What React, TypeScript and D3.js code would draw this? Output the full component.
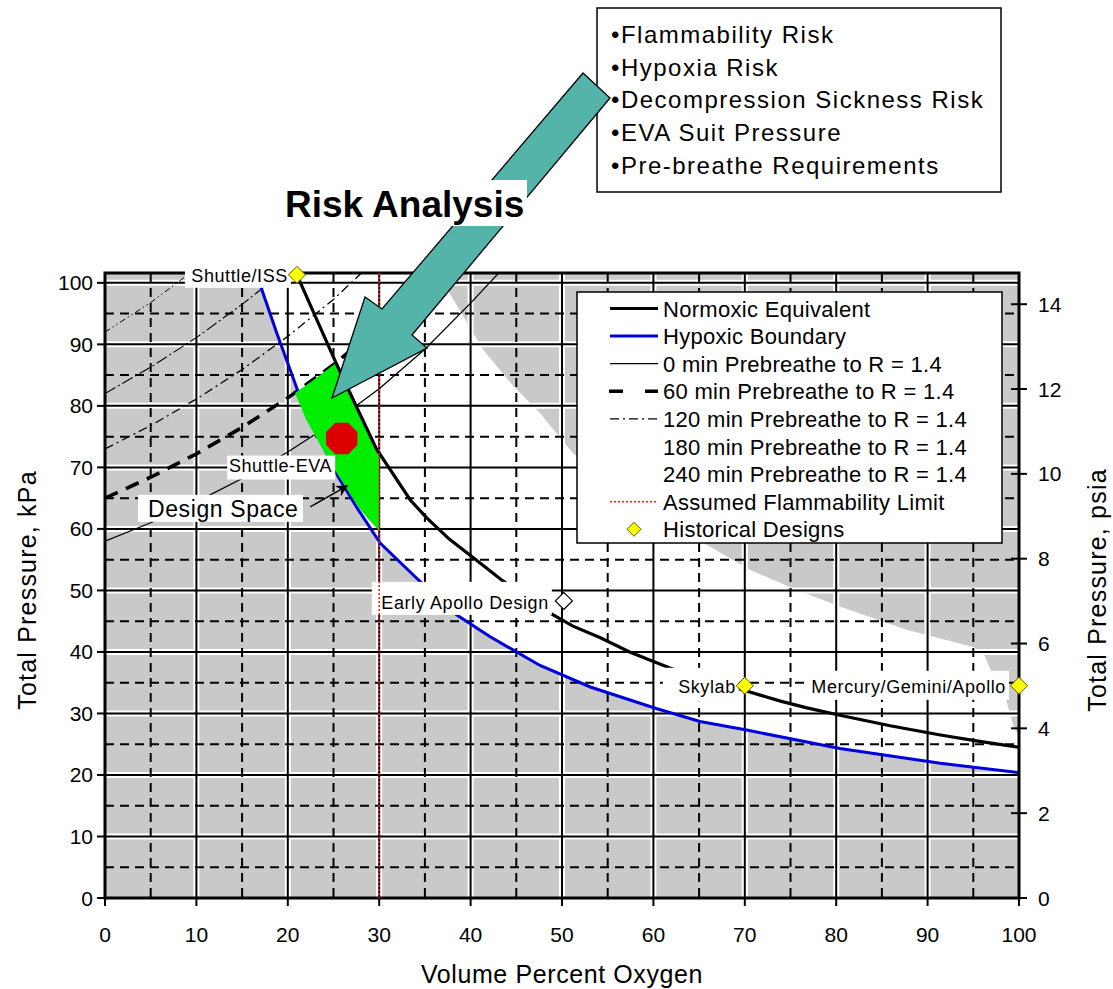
import React from 'react';
import * as d3 from 'd3';

type Pt = [number, number];

const W = 1113;
const H = 989;
const PLOT = { left: 105, right: 1019, top: 273, bottom: 898 };
const X_MAX = 100;
const Y_MAX = 101.6;
const KPA_PER_PSI = 6.894757;
const FONT = '"Liberation Sans", Arial, Helvetica, sans-serif';

// Axis ticks
const xTicks = [0, 10, 20, 30, 40, 50, 60, 70, 80, 90, 100];
const yTicks = [0, 10, 20, 30, 40, 50, 60, 70, 80, 90, 100];
const psiTicks = [0, 2, 4, 6, 8, 10, 12, 14];
const xMinor = [5, 15, 25, 35, 45, 55, 65, 75, 85, 95];
const yMinor = [5, 15, 25, 35, 45, 55, 65, 75, 85, 95];

// [volume % O2, total pressure kPa]
const normoxic: Pt[] = [
  [21.0, 101.3], [23.0, 94.6], [25.3, 86.9], [27.5, 79.9], [29.7, 73.0],
  [33.4, 64.7], [35.2, 61.8], [37.7, 58.3], [40.3, 55.3], [43.4, 51.7], [46.0, 49.0],
  [48.7, 46.3], [51.2, 44.2], [54.2, 42.3], [57.4, 40.0], [61.8, 37.4], [65.8, 35.6],
  [69.8, 33.8], [73.9, 32.0], [76.8, 30.9], [80.4, 29.7], [85.9, 28.0], [91.4, 26.5],
  [95.5, 25.5], [100, 24.5],
];

const hypoxic: Pt[] = [
  [16.9, 100.0], [18.8, 91.8], [21.2, 82.0], [22.4, 77.7], [23.9, 73.4], [25.5, 68.5],
  [27.5, 63.6], [30.1, 57.7], [34.3, 51.7], [38.5, 46.0], [42.1, 42.5], [47.6, 37.8],
  [53.1, 34.3], [60.3, 30.8], [65.1, 28.7], [70.2, 27.3], [80.4, 24.3], [91.4, 21.9],
  [100, 20.4],
];

const prebreathe0: Pt[] = [
  [0, 58.0], [5, 61.0], [10, 64.4], [15, 68.2], [20, 72.5], [25, 77.3], [30, 82.8],
  [35, 89.2], [40, 96.7], [43.2, 101.8],
];
const prebreathe60: Pt[] = [
  [0, 65.0], [5, 68.4], [10, 72.2], [15, 76.5], [20, 81.3], [25, 86.7], [30, 92.9],
  [35, 100.0], [36.2, 101.8],
];
const prebreathe120: Pt[] = [
  [0, 73.0], [5, 76.8], [10, 81.1], [15, 85.9], [20, 91.3], [25, 97.3], [28.2, 101.8],
];
const prebreathe180: Pt[] = [
  [0, 82.0], [5, 86.3], [10, 91.1], [15, 96.5], [19.5, 101.8],
];
const prebreathe240: Pt[] = [
  [0, 92.0], [5, 96.8], [9.5, 101.8],
];

// Upper-right limit of the acceptable atmosphere band
const upperLimit: Pt[] = [
  [36.6, 101.6], [37.7, 98.3], [41.4, 89.1], [44.5, 83.5], [47.6, 78.8], [51.2, 72.3],
  [56.0, 66.8], [61.0, 61.5], [66.2, 57.1], [70.6, 53.3], [75.5, 50.2], [80.4, 47.4],
  [87.7, 43.6], [95.0, 40.8], [96.2, 39.6], [97.2, 36.0], [98.6, 32.2], [99.4, 27.8],
  [100, 26.5],
];

const designSpace: Pt[] = [
  [20.8, 82.1], [23.0, 84.4], [25.2, 86.9], [26.4, 83.2], [27.5, 79.9], [28.6, 76.4],
  [29.7, 73.0], [30.0, 72.3], [30.0, 59.7], [28.8, 61.6], [27.7, 63.6], [25.6, 68.5],
  [23.6, 73.5], [22.0, 77.8],
];

const flammabilityLimit = 30;
const designPoint: Pt = [25.9, 74.7];
const designArrowTip: Pt = [26.5, 67.0];

const historicalNames = ['Shuttle/ISS', 'Skylab', 'Mercury/Gemini/Apollo'];
const historicalO2 = [21, 70, 100];
const historicalP = [101.3, 34.5, 34.5];
const earlyApollo: Pt = [50.2, 48.3];

const bulletItems = [
  'Flammability Risk',
  'Hypoxia Risk',
  'Decompression Sickness Risk',
  'EVA Suit Pressure',
  'Pre-breathe Requirements',
];

const legendLabels = [
  'Normoxic Equivalent',
  'Hypoxic Boundary',
  '0 min Prebreathe to R = 1.4',
  '60 min Prebreathe to R = 1.4',
  '120 min Prebreathe to R = 1.4',
  '180 min Prebreathe to R = 1.4',
  '240 min Prebreathe to R = 1.4',
  'Assumed Flammability Limit',
  'Historical Designs',
];

const prebreatheSeries = [
  { pts: prebreathe0, width: 1.3, dash: undefined as string | undefined },
  { pts: prebreathe60, width: 3.6, dash: '14,9' },
  { pts: prebreathe120, width: 1.3, dash: '9,4,2,4' },
  { pts: prebreathe180, width: 1.1, dash: '12,3,2,3' },
  { pts: prebreathe240, width: 1.0, dash: '6,3,1.5,3,1.5,3' },
];

// Block arrow pointing from the risk list down into the design space (page pixels)
const riskArrow: Pt[] = [
  [583, 73], [610, 98], [412, 335], [427, 348], [332, 398], [365, 297], [382, 309],
];

const diamond = (cx: number, cy: number, r: number) =>
  `M${cx},${cy - r}L${cx + r},${cy}L${cx},${cy + r}L${cx - r},${cy}Z`;

export default function App() {
  const x = d3.scaleLinear().domain([0, X_MAX]).range([PLOT.left, PLOT.right]);
  const y = d3.scaleLinear().domain([0, Y_MAX]).range([PLOT.bottom, PLOT.top]);
  const yPsi = d3.scaleLinear().domain([0, Y_MAX / KPA_PER_PSI]).range([PLOT.bottom, PLOT.top]);
  const line = d3.line<Pt>().x((d) => x(d[0])).y((d) => y(d[1]));
  const poly = (pts: Pt[]) => (line(pts) || '') + 'Z';

  const lowerGray: Pt[] = [[0, Y_MAX], [16.6, Y_MAX], ...hypoxic, [100, 0], [0, 0]];
  const upperGray: Pt[] = [...upperLimit, [100, Y_MAX]];

  const [ox, oy] = [x(designPoint[0]), y(designPoint[1])];
  const octagon = d3.range(8).map((i) => {
    const a = (Math.PI / 8) * (2 * i + 1);
    return `${ox + 17 * Math.cos(a)},${oy + 17 * Math.sin(a)}`;
  }).join(' ');

  const tipX = x(designArrowTip[0]);
  const tipY = y(designArrowTip[1]);

  const labelStyle = { fontFamily: FONT, fontSize: 18, letterSpacing: 0.6 } as const;

  const pointLabels = [
    { text: historicalNames[0], px: x(historicalO2[0]) - 9, py: y(historicalP[0]) + 7, w: 106, h: 22, up: 16 },
    { text: 'Shuttle-EVA', px: x(26.5) - 15, py: y(70.3) + 6, w: 108, h: 24, up: 16 },
    { text: 'Early Apollo Design', px: x(earlyApollo[0]) - 15, py: y(earlyApollo[1]) + 8, w: 180, h: 33, up: 27 },
    { text: historicalNames[1], px: x(historicalO2[1]) - 9, py: y(historicalP[1]) + 7, w: 76, h: 34, up: 25 },
    { text: historicalNames[2], px: x(historicalO2[2]) - 13, py: y(historicalP[2]) + 7, w: 204, h: 29, up: 22 },
  ];

  const legendX = 577;
  const legendY = 292;
  const rowY = (i: number) => 308.5 + i * 27.6;

  return (
    <svg width={W} height={H} style={{ position: 'absolute', left: 0, top: 0, background: '#fff' }}>
      <defs>
        <clipPath id="plot-clip">
          <rect x={PLOT.left} y={PLOT.top} width={PLOT.right - PLOT.left} height={PLOT.bottom - PLOT.top} />
        </clipPath>
        <marker id="arrowhead" viewBox="0 0 10 10" refX="9" refY="5" markerWidth="8" markerHeight="8" orient="auto">
          <path d="M0,0L10,5L0,10L3,5Z" fill="#000" />
        </marker>
      </defs>
      <rect x={0} y={0} width={W} height={H} fill="#fff" />

      <g clipPath="url(#plot-clip)">
        {/* infeasible regions */}
        <path d={poly(lowerGray)} fill="#c9c9c9" />
        <path d={poly(upperGray)} fill="#c9c9c9" />

        {/* grid */}
        {xTicks.slice(1, -1).map((v) => (
          <line key={`hx${v}`} x1={x(v)} x2={x(v)} y1={PLOT.top} y2={PLOT.bottom} stroke="#fff" strokeWidth={6} />
        ))}
        {yTicks.slice(1).map((v) => (
          <line key={`hy${v}`} x1={PLOT.left} x2={PLOT.right} y1={y(v)} y2={y(v)} stroke="#fff" strokeWidth={6} />
        ))}
        {xMinor.map((v) => (
          <line key={`mx${v}`} x1={x(v)} x2={x(v)} y1={PLOT.top} y2={PLOT.bottom} stroke="#000" strokeWidth={2} strokeDasharray="9,6" />
        ))}
        {yMinor.map((v) => (
          <line key={`my${v}`} x1={PLOT.left} x2={PLOT.right} y1={y(v)} y2={y(v)} stroke="#000" strokeWidth={2} strokeDasharray="9,6" />
        ))}
        {xTicks.slice(1, -1).map((v) => (
          <line key={`gx${v}`} x1={x(v)} x2={x(v)} y1={PLOT.top} y2={PLOT.bottom} stroke="#000" strokeWidth={2} />
        ))}
        {yTicks.slice(1).map((v) => (
          <line key={`gy${v}`} x1={PLOT.left} x2={PLOT.right} y1={y(v)} y2={y(v)} stroke="#000" strokeWidth={2} />
        ))}

        {/* prebreathe curves */}
        {prebreatheSeries.map((s, i) => (
          <path key={`pb${i}`} d={line(s.pts) || ''} fill="none" stroke="#000" strokeWidth={s.width} strokeDasharray={s.dash} />
        ))}

        {/* hypoxic boundary */}
        <path d={line(hypoxic) || ''} fill="none" stroke="#0000dd" strokeWidth={3} />

        {/* design space */}
        <path d={poly(designSpace)} fill="#00ee00" />

        {/* normoxic equivalent */}
        <path d={line(normoxic) || ''} fill="none" stroke="#000" strokeWidth={3.2} />

        {/* selected design point */}
        <polygon points={octagon} fill="#dd0000" />
      </g>

      {/* frame and axes */}
      <rect x={PLOT.left} y={PLOT.top} width={PLOT.right - PLOT.left} height={PLOT.bottom - PLOT.top} fill="none" stroke="#000" strokeWidth={3} />
      {yTicks.map((v) => (
        <g key={`yt${v}`}>
          <line x1={PLOT.left - 8} x2={PLOT.left} y1={y(v)} y2={y(v)} stroke="#000" strokeWidth={2} />
          <text x={93} y={y(v) + 7.5} textAnchor="end" fontFamily={FONT} fontSize={21}>{v}</text>
        </g>
      ))}
      {xTicks.map((v) => (
        <g key={`xt${v}`}>
          <line x1={x(v)} x2={x(v)} y1={PLOT.bottom} y2={PLOT.bottom + 8} stroke="#000" strokeWidth={2} />
          <text x={x(v)} y={942} textAnchor="middle" fontFamily={FONT} fontSize={21}>{v}</text>
        </g>
      ))}
      {psiTicks.map((v) => (
        <g key={`pt${v}`}>
          <line x1={PLOT.right - 8} x2={PLOT.right + 8} y1={yPsi(v)} y2={yPsi(v)} stroke="#000" strokeWidth={2} />
          <text x={1038} y={yPsi(v) + 7.5} textAnchor="start" fontFamily={FONT} fontSize={21}>{v}</text>
        </g>
      ))}
      <text x={562} y={983} textAnchor="middle" fontFamily={FONT} fontSize={25} letterSpacing={0.6}>Volume Percent Oxygen</text>
      <text transform="translate(36,590) rotate(-90)" textAnchor="middle" fontFamily={FONT} fontSize={25} letterSpacing={1.2}>Total Pressure, kPa</text>
      <text transform="translate(1106,590) rotate(-90)" textAnchor="middle" fontFamily={FONT} fontSize={25} letterSpacing={1.2}>Total Pressure, psia</text>

      {/* point labels */}
      {pointLabels.map((l) => (
        <g key={l.text}>
          <rect x={l.px - l.w + 3} y={l.py - l.up} width={l.w} height={l.h} fill="#fff" />
          <text x={l.px} y={l.py} textAnchor="end" {...labelStyle}>{l.text}</text>
        </g>
      ))}

      {/* flammability limit */}
      <line x1={x(flammabilityLimit)} x2={x(flammabilityLimit)} y1={PLOT.top} y2={PLOT.bottom} stroke="#ff1a1a" strokeWidth={1.6} strokeDasharray="2,2" />

      {/* historical designs */}
      {historicalO2.map((o, i) => (
        <path key={`hd${i}`} d={diamond(x(o), y(historicalP[i]), 8.5)} fill="#ffff00" stroke="#5a5a00" strokeWidth={1} />
      ))}
      <path d={diamond(x(earlyApollo[0]), y(earlyApollo[1]), 8.5)} fill="#fff" stroke="#000" strokeWidth={1.2} />

      {/* design space callout */}
      <rect x={138} y={tipY + 9} width={165} height={27} fill="#fff" />
      <text x={148} y={tipY + 31} fontFamily={FONT} fontSize={23} letterSpacing={0.6}>Design Space</text>
      <line x1={tipX - 37} x2={tipX} y1={tipY + 21} y2={tipY} stroke="#000" strokeWidth={1.5} markerEnd="url(#arrowhead)" />

      {/* legend */}
      <rect x={legendX} y={legendY} width={425} height={251} fill="#fff" stroke="#000" strokeWidth={1.5} />
      <line x1={610} x2={658} y1={rowY(0)} y2={rowY(0)} stroke="#000" strokeWidth={3.2} />
      <line x1={610} x2={658} y1={rowY(1)} y2={rowY(1)} stroke="#0000dd" strokeWidth={3} />
      <line x1={610} x2={658} y1={rowY(2)} y2={rowY(2)} stroke="#000" strokeWidth={1.3} />
      <line x1={609} x2={658} y1={rowY(3)} y2={rowY(3)} stroke="#000" strokeWidth={3.6} strokeDasharray="14,22" />
      <line x1={610} x2={658} y1={rowY(4)} y2={rowY(4)} stroke="#000" strokeWidth={1.3} strokeDasharray="9,4,2,4" />
      <line x1={610} x2={658} y1={rowY(7)} y2={rowY(7)} stroke="#ff1a1a" strokeWidth={1.6} strokeDasharray="2,2" />
      <path d={diamond(634, rowY(8), 7)} fill="#ffff00" stroke="#5a5a00" strokeWidth={1} />
      {legendLabels.map((t, i) => (
        <text key={t} x={663} y={rowY(i) + 8} fontFamily={FONT} fontSize={22} letterSpacing={0.3}>{t}</text>
      ))}

      {/* risk list */}
      <rect x={597} y={8} width={404} height={184} fill="#fff" stroke="#000" strokeWidth={1.5} />
      {bulletItems.map((t, i) => (
        <text key={t} x={611} y={43 + i * 32.7} fontFamily={FONT} fontSize={24} letterSpacing={1.5}>{'\u2022' + t}</text>
      ))}

      {/* risk analysis arrow */}
      <polygon points={riskArrow.map((p) => p.join(',')).join(' ')} fill="#55b4aa" stroke="#000" strokeWidth={1.3} />
      <rect x={283} y={180} width={244} height={46} fill="#fff" />
      <text x={285} y={217} fontFamily={FONT} fontSize={37} fontWeight="bold">Risk Analysis</text>
    </svg>
  );
}
